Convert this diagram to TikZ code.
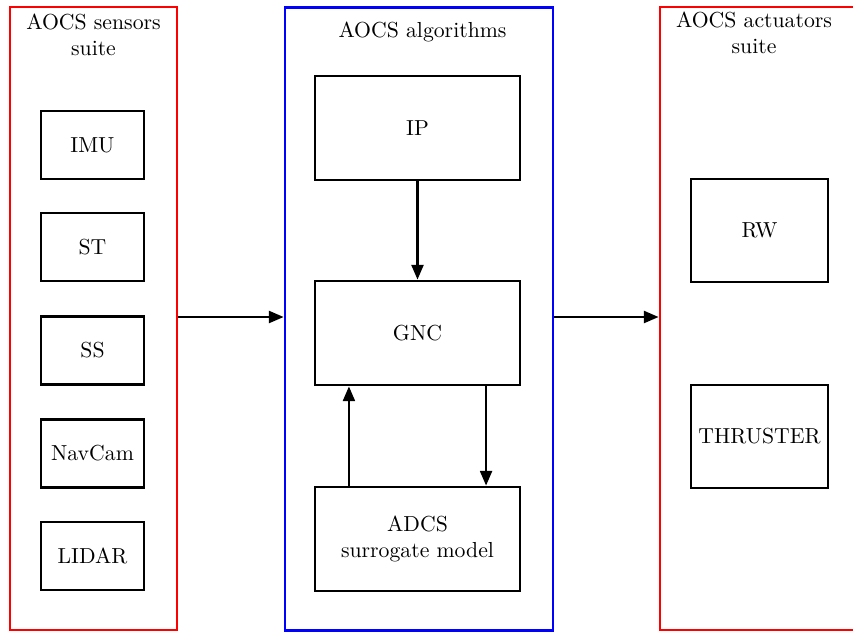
\documentclass[tikz,border=0pt]{standalone}
\usetikzlibrary{arrows.meta}
\begin{document}
\begin{tikzpicture}[x=0.474pt,y=-0.474pt,
  every node/.style={font=\fontsize{10.3}{12.2}\selectfont},
  blk/.style={draw=black,line width=1.25pt,inner sep=0pt,align=center},
  sbox/.style={blk,minimum width=48.8pt,minimum height=32.2pt},
  abox/.style={blk,minimum width=97.2pt,minimum height=49.3pt},
  rbox/.style={blk,minimum width=64.9pt,minimum height=48.8pt},
  cont/.style={draw,line width=1.25pt,inner sep=0pt,minimum height=295.3pt},
  lbl/.style={inner sep=0pt,align=center},
  arr/.style={line width=1.25pt,-{Triangle[length=7pt,width=5.6pt]}}]
\useasboundingbox (0,0) rectangle (853,632);
% containers
\node[cont,draw=red,minimum width=79.2pt] (sens) at (93.5,318.5) {};
\node[cont,draw=blue,minimum width=127pt] (alg) at (419,319) {};
\node[cont,draw=red,minimum width=94.8pt] (act) at (760,318.5) {};
% titles
\node[lbl,anchor=north] (tsens) at (93.5,14) {AOCS sensors\\suite};
\node[lbl,anchor=base] (talg) at (422.5,37) {AOCS algorithms};
\node[lbl,anchor=north] (tact) at (754,12) {AOCS actuators\\suite};
% sensors
\node[sbox] (imu) at (92.5,145) {IMU};
\node[sbox] (st) at (92.5,247) {ST};
\node[sbox] (ss) at (92.5,350.5) {SS};
\node[sbox] (nav) at (92.5,453.5) {NavCam};
\node[sbox] (lidar) at (92.5,556) {LIDAR};
% algorithms
\node[abox] (ip) at (417.5,128) {IP};
\node[abox] (gnc) at (417.5,333) {GNC};
\node[abox] (adcs) at (417.5,539) {ADCS\\surrogate model};
% actuators
\node[rbox] (rw) at (759.5,230.5) {RW};
\node[rbox] (thr) at (759.5,436.5) {THRUSTER};
% connectors
\draw[arr] (sens.east |- 0,317) -- (alg.west |- 0,317);
\draw[arr] (alg.east |- 0,317) -- (act.west |- 0,317);
\draw[arr] (ip) -- (gnc);
\draw[arr] ([xshift=-32.5pt]adcs.north) -- ([xshift=-32.5pt]gnc.south);
\draw[arr] ([xshift=32.5pt]gnc.south) -- ([xshift=32.5pt]adcs.north);
\end{tikzpicture}
\end{document}
